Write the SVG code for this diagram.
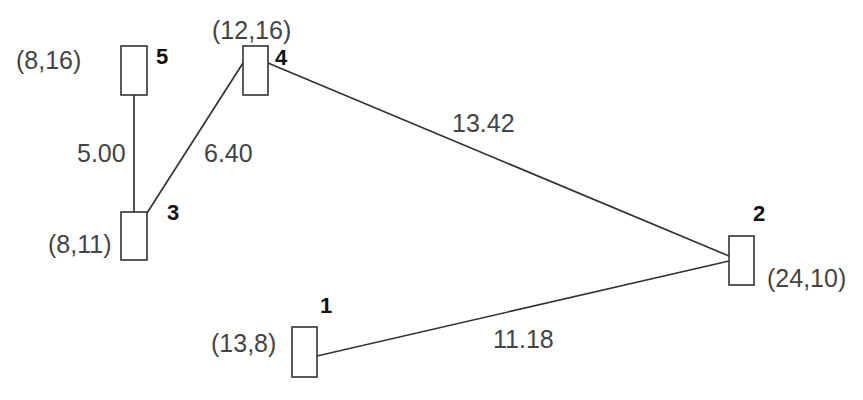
<svg xmlns="http://www.w3.org/2000/svg" width="863" height="400" viewBox="0 0 863 400">
  <style>
    .node rect { fill: #ffffff; stroke: #333333; stroke-width: 1.6; }
    .coord { font-family: "Liberation Sans", Arial, sans-serif; font-size: 25px; fill: #444444; }
    .num { font-family: "Liberation Sans", Arial, sans-serif; font-size: 22px; font-weight: bold; fill: #111111; }
    .wt { font-family: "Liberation Sans", Arial, sans-serif; font-size: 25px; fill: #444444; }
    .edges line { stroke: #333333; stroke-width: 1.7; }
  </style>
  <rect x="0" y="0" width="863" height="400" fill="#ffffff"/>
  <g id="connectors" class="edges">
    <line x1="134" y1="95" x2="134" y2="212"/>
    <line x1="147" y1="213" x2="243" y2="63"/>
    <line x1="268" y1="63" x2="729" y2="256"/>
    <line x1="317" y1="356" x2="729" y2="261"/>
  </g>
  <g id="edge-labels">
    <text class="wt" x="77" y="162">5.00</text>
    <text class="wt" x="204" y="162">6.40</text>
    <text class="wt" x="452" y="132">13.42</text>
    <text class="wt" x="493" y="348">11.18</text>
  </g>
  <g id="node5" class="node">
    <rect x="121" y="46" width="26" height="49"/>
    <text class="num" x="156" y="64">5</text>
    <text class="coord" x="16" y="69">(8,16)</text>
  </g>
  <g id="node4" class="node">
    <rect x="243" y="46" width="25" height="49"/>
    <text class="num" x="275" y="65">4</text>
    <text class="coord" x="212" y="39">(12,16)</text>
  </g>
  <g id="node3" class="node">
    <rect x="121" y="212" width="26" height="48"/>
    <text class="num" x="167" y="220">3</text>
    <text class="coord" x="48" y="253">(8,11)</text>
  </g>
  <g id="node2" class="node">
    <rect x="729" y="236" width="25" height="49"/>
    <text class="num" x="753" y="221">2</text>
    <text class="coord" x="767" y="287">(24,10)</text>
  </g>
  <g id="node1" class="node">
    <rect x="292" y="327" width="25" height="50"/>
    <text class="num" x="320" y="313">1</text>
    <text class="coord" x="211" y="352">(13,8)</text>
  </g>
</svg>
